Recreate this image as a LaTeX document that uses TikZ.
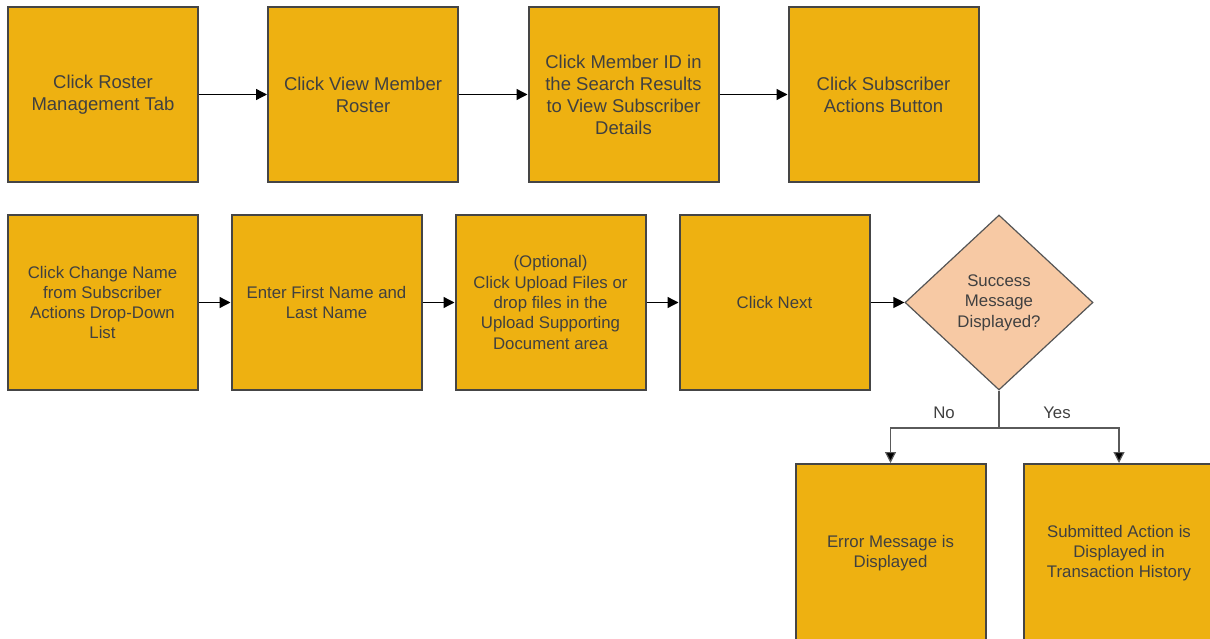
\documentclass[tikz,border=0pt]{standalone}
\usepackage{fontspec}
\setmainfont{Liberation Sans}
\usetikzlibrary{shapes.geometric,arrows.meta}
\definecolor{boxfill}{HTML}{EEB111}
\definecolor{boxdraw}{HTML}{454545}
\definecolor{txt}{HTML}{404040}
\definecolor{diafill}{HTML}{F7C9A4}
\definecolor{diadraw}{HTML}{555555}
\definecolor{conn}{HTML}{5A5A5A}
\tikzset{
  bigbox/.style={draw=boxdraw, line width=2pt, fill=boxfill, text=txt,
    minimum width=190pt, minimum height=175pt, inner sep=0pt, align=center,
    font=\fontsize{18.5pt}{22pt}\selectfont},
  smallbox/.style={bigbox, font=\fontsize{16.8pt}{20.3pt}\selectfont},
  decision/.style={diamond, draw=diadraw, line width=1.2pt, fill=diafill, text=txt,
    minimum width=188pt, minimum height=175pt, inner sep=0pt, align=center,
    font=\fontsize{16.8pt}{20.5pt}\selectfont},
  flow/.style={draw=black, line width=1.3pt, -{Triangle[length=11pt,width=11pt]}},
  branch/.style={draw=conn, line width=1.2pt, -{Triangle[length=11pt,width=11pt,fill=black]}},
  lbl/.style={text=txt, font=\fontsize{16.8pt}{20pt}\selectfont, inner sep=0pt}
}
\begin{document}
\begin{tikzpicture}[x=1pt,y=-1pt]
\useasboundingbox (0,0) rectangle (1210,639);
% row 1
\node[bigbox] (r1) at (103,94.5) {Click Roster\\Management Tab};
\node[bigbox] (r2) at (363,94.5) {Click View Member\\Roster};
\node[bigbox] (r3) at (623.5,94.5) {Click Member ID in\\the Search Results\\to View Subscriber\\Details};
\node[bigbox] (r4) at (883.5,94.5) {Click Subscriber\\Actions Button};
\draw[flow] (r1) -- (r2);
\draw[flow] (r2) -- (r3);
\draw[flow] (r3) -- (r4);
% row 2
\node[smallbox] (s1) at (102.5,302.5) {Click Change Name\\from Subscriber\\Actions Drop-Down\\List};
\node[smallbox] (s2) at (326.5,302.5) {Enter First Name and\\Last Name};
\node[smallbox] (s3) at (550.5,302.5) {(Optional)\\Click Upload Files or\\drop files in the\\Upload Supporting\\Document area};
\node[smallbox] (s4) at (774.5,302.5) {Click Next};
\node[decision] (d) at (999,302.5) {Success\\Message\\Displayed?};
\draw[flow] (s1) -- (s2);
\draw[flow] (s2) -- (s3);
\draw[flow] (s3) -- (s4);
\draw[flow] (s4) -- (d);
% outcomes
\node[smallbox, minimum height=178pt] (e) at (890.5,553) {Error Message is\\Displayed};
\node[smallbox, minimum height=178pt] (f) at (1119,553) {Submitted Action is\\Displayed in\\Transaction History};
\coordinate (j) at (999,428);
\draw[draw=conn, line width=1.2pt] (d.south) -- (j);
\draw[branch] (j) -| (e.north);
\draw[branch] (j) -| (f.north);
\node[lbl] (no) at (944,413) {No};
\node[lbl] (yes) at (1057,413) {Yes};
\end{tikzpicture}
\end{document}
